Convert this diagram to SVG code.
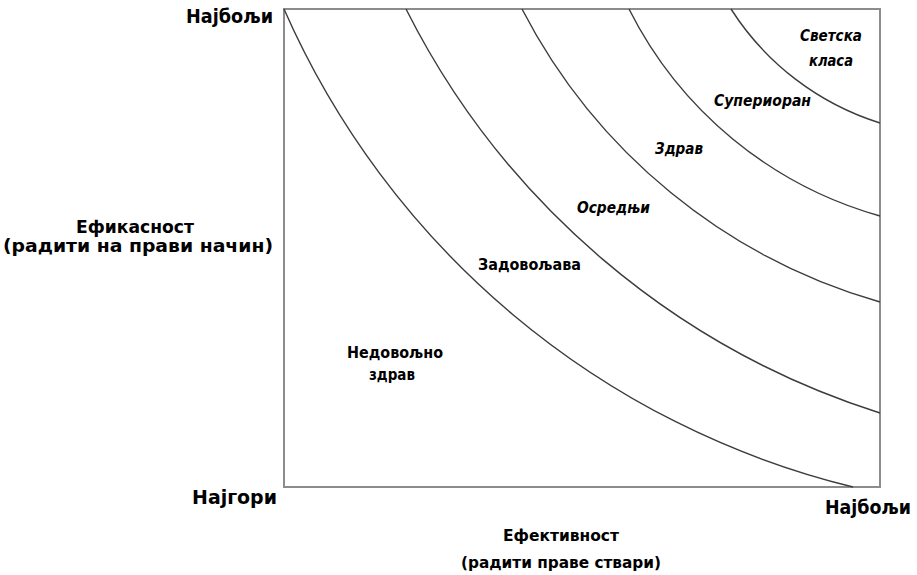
<svg xmlns="http://www.w3.org/2000/svg" width="917" height="575" viewBox="0 0 917 575">
  <style>
    .frame { fill: none; stroke: #8c8c8c; stroke-width: 2; }
    .curve { fill: none; stroke: #3c3c3c; stroke-width: 1.4; }
    text { font-family: "DejaVu Sans", "Liberation Sans", sans-serif; font-weight: bold; fill: #000; }
    .corner { font-size: 19px; }
    .axis { font-size: 17px; }
    .axis-x { font-size: 16px; }
    .zone { font-size: 16px; }
    .slant { font-style: italic; }
  </style>
  <rect width="917" height="575" fill="#fff"/>

  <!-- plot frame -->
  <g id="frame">
    <rect class="frame" x="284" y="9" width="596" height="478"/>
  </g>

  <!-- iso-performance curves, outermost first -->
  <g id="connectors">
    <path class="curve" d="M284,9 A839,839 0 0 0 853,487"/>
    <path class="curve" d="M406,9 A802,802 0 0 0 880,413"/>
    <path class="curve" d="M522,9 A583,583 0 0 0 880,302"/>
    <path class="curve" d="M629,9 A403,403 0 0 0 880,216"/>
    <path class="curve" d="M731,9 A274,274 0 0 0 880,123"/>
  </g>

  <!-- axis labels -->
  <g id="y-top"><text class="corner" x="186" y="23" textLength="87" lengthAdjust="spacingAndGlyphs">Најбољи</text></g>
  <g id="y-axis">
    <text class="axis" x="76" y="233" textLength="118" lengthAdjust="spacingAndGlyphs">Ефикасност</text>
    <text class="axis" x="3" y="252" textLength="270" lengthAdjust="spacingAndGlyphs">(радити на прави начин)</text>
  </g>
  <g id="origin"><text class="corner" x="192" y="504" textLength="85" lengthAdjust="spacingAndGlyphs">Најгори</text></g>
  <g id="x-axis">
    <text class="axis-x" x="503" y="541" textLength="116" lengthAdjust="spacingAndGlyphs">Ефективност</text>
    <text class="axis-x" x="461" y="568" textLength="200" lengthAdjust="spacingAndGlyphs">(радити праве ствари)</text>
  </g>
  <g id="x-right"><text class="corner" x="825" y="514" textLength="86" lengthAdjust="spacingAndGlyphs">Најбољи</text></g>

  <!-- zone labels -->
  <g id="zone-world">
    <text class="zone slant" x="800" y="41" textLength="62" lengthAdjust="spacingAndGlyphs">Светска</text>
    <text class="zone slant" x="809" y="66" textLength="44" lengthAdjust="spacingAndGlyphs">класа</text>
  </g>
  <g id="zone-superior"><text class="zone slant" x="714" y="106" textLength="97" lengthAdjust="spacingAndGlyphs">Супериоран</text></g>
  <g id="zone-healthy"><text class="zone slant" x="655" y="154" textLength="48" lengthAdjust="spacingAndGlyphs">Здрав</text></g>
  <g id="zone-average"><text class="zone slant" x="577" y="213" textLength="73" lengthAdjust="spacingAndGlyphs">Осредњи</text></g>
  <g id="zone-adequate"><text class="zone" x="478" y="270" textLength="103" lengthAdjust="spacingAndGlyphs">Задовољава</text></g>
  <g id="zone-unhealthy">
    <text class="zone" x="347" y="358" textLength="96" lengthAdjust="spacingAndGlyphs">Недовољно</text>
    <text class="zone" x="369" y="380" textLength="46" lengthAdjust="spacingAndGlyphs">здрав</text>
  </g>
</svg>
